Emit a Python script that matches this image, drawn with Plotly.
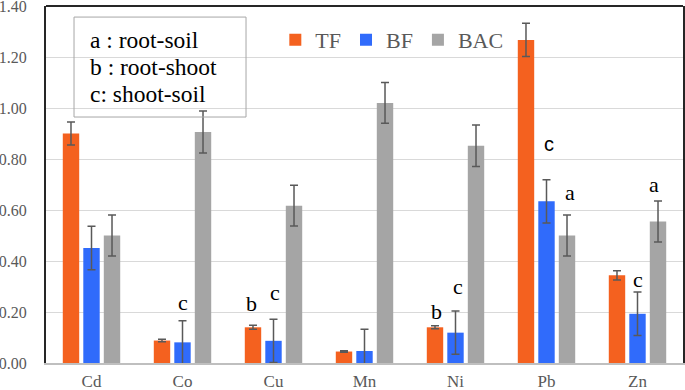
import plotly.graph_objects as go

metals = ["Cd", "Co", "Cu", "Mn", "Ni", "Pb", "Zn"]
tf = [0.90, 0.088, 0.14, 0.045, 0.14, 1.267, 0.344]
tf_err = [0.045, 0.005, 0.008, 0.003, 0.006, 0.065, 0.018]
bf = [0.451, 0.081, 0.087, 0.047, 0.119, 0.634, 0.193]
bf_err = [0.085, 0.085, 0.085, 0.085, 0.085, 0.085, 0.085]
bac = [0.50, 0.906, 0.617, 1.02, 0.852, 0.50, 0.555]
bac_err = [0.08, 0.082, 0.08, 0.08, 0.081, 0.08, 0.08]

y_ticks = [0.0, 0.2, 0.4, 0.6, 0.8, 1.0, 1.2, 1.4]

# significance letters: (metal, letter, y value)
sig_metal = ["Co", "Cu", "Cu", "Ni", "Ni", "Pb", "Pb", "Zn", "Zn"]
sig_letter = ["c", "b", "c", "b", "c", "c", "a", "c", "a"]
sig_y = [0.236, 0.233, 0.276, 0.202, 0.30, 0.86, 0.668, 0.329, 0.70]
sig_shift = [0, -22, 1, -19, 2, 2, 23, 0, 16]

box_lines = ["a : root-soil", "b : root-shoot", "c: shoot-soil"]

series = [("TF", tf, tf_err, "#F4611F"), ("BF", bf, bf_err, "#306BFB"), ("BAC", bac, bac_err, "#A5A5A5")]

fig = go.Figure()
for name, vals, errs, col in series:
    fig.add_trace(go.Bar(
        name=name, x=metals, y=vals, marker=dict(color=col, line=dict(width=0)),
        error_y=dict(type="data", array=errs, visible=True, color="#595959", thickness=1.5, width=4),
    ))

serif = "Liberation Serif"
annotations = []
for m, l, yv, sh in zip(sig_metal, sig_letter, sig_y, sig_shift):
    fnt = dict(family=serif, size=22, color="black")
    if m == "Pb" and l == "c":
        fnt = dict(family="Liberation Sans", size=20, color="black")
    annotations.append(dict(x=m, y=yv, xref="x", yref="y", text=l, showarrow=False,
                            xshift=sh, xanchor="center", yanchor="middle", font=fnt))

line_y = [0.905, 0.830, 0.753]
for t, yy in zip(box_lines, line_y):
    annotations.append(dict(x=0.066, y=yy, xref="paper", yref="paper", text=t, showarrow=False,
                            xanchor="left", yanchor="middle", font=dict(family=serif, size=23.5, color="black")))

fig.update_layout(
    width=685, height=390,
    margin=dict(l=46, r=2, t=6, b=27),
    paper_bgcolor="white", plot_bgcolor="white",
    barmode="group", bargap=0.324, bargroupgap=0.2,
    font=dict(family=serif, color="#595959"),
    showlegend=True,
    legend=dict(orientation="h", x=0.36, xanchor="left", y=0.905, yanchor="middle",
                font=dict(family=serif, size=22, color="#595959"), bgcolor="rgba(0,0,0,0)",
                itemwidth=30, traceorder="normal"),
    xaxis=dict(showline=True, linecolor="#BFBFBF", linewidth=2, showgrid=False, ticks="",
               automargin=False,
               tickfont=dict(family=serif, size=17, color="#595959"), ticklabelstandoff=2),
    yaxis=dict(range=[0, 1.4001], tickvals=y_ticks, tickformat=".2f", showgrid=True, gridcolor="#D9D9D9",
               gridwidth=1, showline=True, linecolor="#262626", linewidth=2, mirror=True, zeroline=False,
               automargin=False, ticklabeloverflow="allow",
               ticks="", tickfont=dict(family=serif, size=16, color="#595959"), ticklabelstandoff=14),
    shapes=[
        dict(type="line", xref="paper", yref="paper", x0=0, x1=1, y0=1, y1=1,
             line=dict(color="#262626", width=2)),
        dict(type="rect", xref="paper", yref="paper", x0=0.044, x1=0.314, y0=0.689, y1=0.969,
             line=dict(color="#A6A6A6", width=1), fillcolor="rgba(0,0,0,0)"),
    ],
    annotations=annotations,
)

fig.write_html("out.html", config={"displayModeBar": False},
               post_script="document.body.style.margin='0px';document.body.style.overflow='hidden';")
